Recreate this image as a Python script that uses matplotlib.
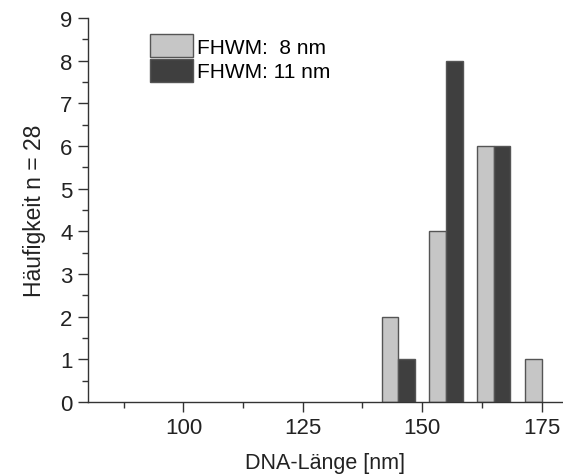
import matplotlib
matplotlib.use("Agg")
import matplotlib.pyplot as plt
import numpy as np
from matplotlib.ticker import MultipleLocator

plt.rcParams['font.family'] = ['Liberation Sans', 'DejaVu Sans']

# Histogram bins (centre of each bin, nm) and counts for both series
bin_centers = [145, 155, 165, 175]
counts_fhwm8 = [2, 4, 6, 1]
counts_fhwm11 = [1, 8, 6, 0]
labels = ["FHWM:  8 nm", "FHWM: 11 nm"]
x_ticks = [100, 125, 150, 175]

bar_w = 3.5
light = "#c6c6c6"
dark = "#3f3f3f"
edge = "#555555"

fig = plt.figure(figsize=(5.63, 4.77), dpi=100)
ax = fig.add_axes([0.1563, 0.155, 0.8437, 0.805])

centers = np.array(bin_centers, dtype=float)
ax.bar(centers - bar_w / 2, counts_fhwm8, width=bar_w, color=light,
       edgecolor=edge, linewidth=1.0, label=labels[0])
c11 = np.array(counts_fhwm11)
mask = c11 > 0
ax.bar((centers + bar_w / 2)[mask], c11[mask], width=bar_w, color=dark,
       edgecolor=edge, linewidth=1.0, label=labels[1])

ax.set_xlim(80, 179.5)
ax.set_ylim(0, 9)
ax.set_xticks(x_ticks)
ax.xaxis.set_minor_locator(MultipleLocator(12.5))
ax.yaxis.set_major_locator(MultipleLocator(1))
ax.yaxis.set_minor_locator(MultipleLocator(0.5))

for s in ("top", "right"):
    ax.spines[s].set_visible(False)
for s in ("left", "bottom"):
    ax.spines[s].set_color("#333333")
    ax.spines[s].set_linewidth(1.0)

ax.tick_params(which="major", direction="out", length=7, width=1.0,
               color="#333333", labelsize=16, labelcolor="#222222", pad=4)
ax.tick_params(which="minor", direction="out", length=4, width=1.0,
               color="#333333")

ax.set_xlabel("DNA-Länge [nm]", fontsize=15.5, color="#222222", labelpad=10)
ax.set_ylabel("Häufigkeit n = 28", fontsize=16.5, color="#222222", labelpad=10)

leg = ax.legend(loc="upper left", bbox_to_anchor=(0.13, 0.958), frameon=False,
                fontsize=15, handlelength=2.1, handleheight=1.3,
                handletextpad=0.15, labelspacing=0.1, borderaxespad=0,
                borderpad=0)

fig.savefig("out.png", dpi=100)
